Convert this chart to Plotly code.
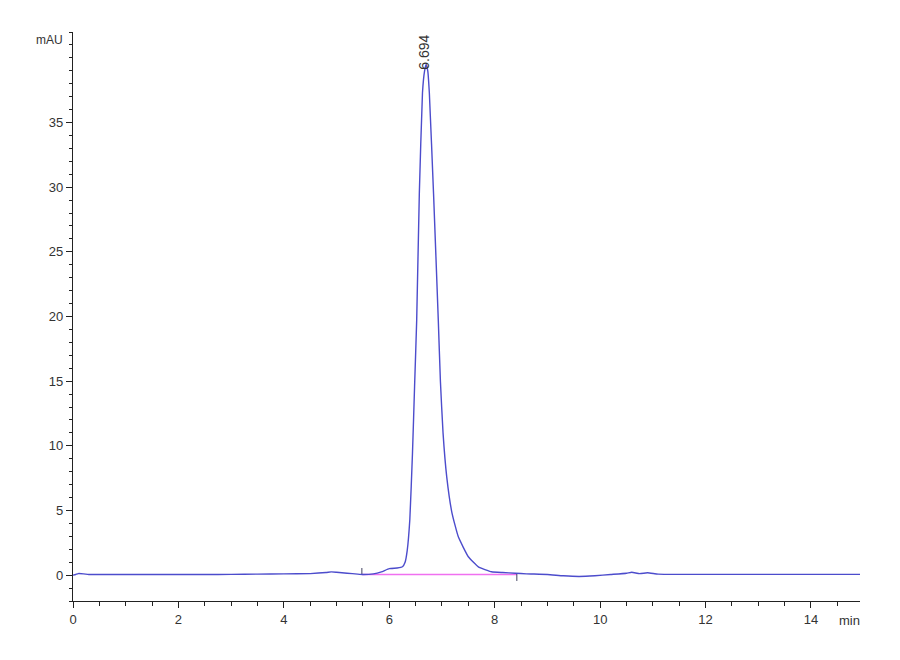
import plotly.graph_objects as go

# Chromatogram signal (min, mAU)
time_min = [0.0, 0.05, 0.1, 0.2, 0.3, 0.5, 1.0, 1.5, 2.0, 2.5, 3.0, 3.5, 4.0, 4.5,
            4.8, 4.9, 5.0, 5.2, 5.4, 5.5, 5.7, 5.85, 6.0, 6.15, 6.25, 6.3, 6.34,
            6.39, 6.44, 6.48, 6.52, 6.57, 6.63, 6.67, 6.70, 6.73, 6.76, 6.84,
            6.93, 6.97, 7.02, 7.09, 7.19, 7.31, 7.50, 7.69, 7.94, 8.15, 8.39,
            8.6, 9.0, 9.3, 9.6, 9.9, 10.2, 10.5, 10.6, 10.75, 10.9, 11.1, 11.5,
            12.0, 13.0, 14.0, 14.93]
signal_mau = [0.0, 0.05, 0.12, 0.1, 0.05, 0.05, 0.05, 0.05, 0.05, 0.05, 0.06, 0.08,
              0.1, 0.12, 0.2, 0.25, 0.22, 0.15, 0.08, 0.05, 0.1, 0.25, 0.5, 0.55,
              0.65, 1.0, 1.9, 4.3, 9.4, 14.6, 19.7, 29.5, 37.3, 39.0, 39.5, 39.0,
              37.3, 29.5, 19.7, 15.0, 11.0, 7.6, 4.8, 2.96, 1.42, 0.64, 0.26,
              0.2, 0.15, 0.1, 0.05, -0.05, -0.1, -0.05, 0.05, 0.15, 0.22, 0.12,
              0.18, 0.08, 0.06, 0.06, 0.06, 0.06, 0.06]

# Integration baseline
baseline_t = [5.48, 8.42]
baseline_y = [0.05, 0.05]
peak_rt = 6.694
peak_height = 39.5
peak_label = "6.694"

x_ticks = [0, 2, 4, 6, 8, 10, 12, 14]
y_ticks = [0, 5, 10, 15, 20, 25, 30, 35]

fig = go.Figure()
fig.add_trace(go.Scatter(x=baseline_t, y=baseline_y, mode="lines",
                         line=dict(color="#f070f0", width=1.6), hoverinfo="skip"))
# start / end marks of integration
fig.add_trace(go.Scatter(x=[baseline_t[0], baseline_t[0]], y=[0.05, 0.55], mode="lines",
                         line=dict(color="#404060", width=1)))
fig.add_trace(go.Scatter(x=[baseline_t[1], baseline_t[1]], y=[0.1, -0.45], mode="lines",
                         line=dict(color="#404060", width=1)))
fig.add_trace(go.Scatter(x=time_min, y=signal_mau, mode="lines",
                         line=dict(color="#4c4ccc", width=1.4, shape="spline", smoothing=0.4)))

fig.add_annotation(x=peak_rt, y=peak_height, text=peak_label, textangle=-90,
                   showarrow=False, xanchor="center", yanchor="bottom",
                   font=dict(size=14, color="#333333", family="Liberation Sans, Arial"),
                   yshift=-7, xshift=-2)
fig.add_annotation(xref="paper", yref="paper", x=0, y=1, text="mAU", showarrow=False,
                   xanchor="right", yanchor="middle", xshift=-8, yshift=-8,
                   font=dict(size=12, color="#333333", family="Liberation Sans Narrow, Liberation Sans, Arial"))
fig.add_annotation(xref="paper", yref="paper", x=1, y=0, text="min", showarrow=False,
                   xanchor="right", yanchor="top", yshift=-10, xshift=2,
                   font=dict(size=13, color="#333333", family="Liberation Sans Narrow, Liberation Sans, Arial"))

axis_font = dict(size=13, color="#333333", family="Liberation Sans Narrow, Liberation Sans, Arial")
fig.update_xaxes(range=[0, 14.93], tickvals=x_ticks, ticks="outside", ticklen=6,
                 tickcolor="#222", showline=True, linecolor="#222", linewidth=1.3,
                 showgrid=False, zeroline=False, tickfont=axis_font,
                 minor=dict(dtick=0.5, tick0=0, ticks="outside", ticklen=4, tickcolor="#222"))
fig.update_yaxes(range=[-2, 42], tickvals=y_ticks, ticks="outside", ticklen=6,
                 tickcolor="#222", showline=True, linecolor="#222", linewidth=1.3,
                 showgrid=False, zeroline=False, tickfont=axis_font,
                 minor=dict(dtick=1, tick0=0, ticks="outside", ticklen=3, tickcolor="#222"))

fig.update_layout(width=900, height=660, showlegend=False,
                  plot_bgcolor="white", paper_bgcolor="white",
                  margin=dict(l=65, r=48, t=24, b=67))

fig.write_html("out.html")
